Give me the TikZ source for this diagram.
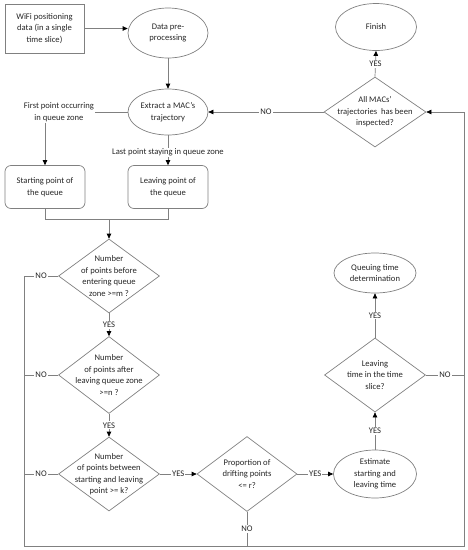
\documentclass[tikz,border=0pt]{standalone}
\usepackage{fontspec}
\setmainfont{Carlito}
\usetikzlibrary{shapes.geometric,arrows.meta}
\begin{document}
\begin{tikzpicture}[x=1pt,y=-1pt,
  every node/.style={font=\fontsize{8.6}{11.5}\selectfont, text=black!85},
  ln/.style={draw=black!50, line width=0.7pt},
  arr/.style={ln, -{Triangle[black, length=5pt, width=4.5pt]}},
  box/.style={draw=black!50, line width=0.7pt, rectangle, align=center, inner sep=0pt},
  rbox/.style={box, rounded corners=6pt},
  ell/.style={draw=black!50, line width=0.7pt, ellipse, align=center, inner sep=0pt},
  dia/.style={draw=black!50, line width=0.7pt, diamond, inner sep=0pt},
  dtext/.style={align=center},
  lab/.style={fill=white, inner sep=1pt}
]
\useasboundingbox (0,0) rectangle (468,550);

\node[box, minimum width=79pt, minimum height=49pt] (wifi) at (44.5,28.5) {WiFi positioning\\data (in a single\\time slice)};
\node[ell, minimum width=80pt, minimum height=50pt] (data) at (168,33) {Data pre-\\processing};
\node[ell, minimum width=80pt, minimum height=46pt] (extract) at (168,112) {Extract a MAC’s\\trajectory};
\node[align=center, inner sep=1pt] (first) at (59,112) {First point occurring\\in queue zone};
\node[rbox, minimum width=80pt, minimum height=43pt] (start) at (45,187) {Starting point of\\the queue};
\node[rbox, minimum width=80pt, minimum height=43pt] (leave) at (168,187) {Leaving point of\\the queue};
\coordinate (j) at (109,219);

\node[dia, minimum width=101pt, minimum height=74pt, label={[dtext]center:Number\\of points before\\entering queue\\zone >=m ?}] (d1) at (109,276) {};
\node[dia, minimum width=101pt, minimum height=77pt, label={[dtext]center:Number\\of points after\\leaving queue zone\\>=n ?}] (d2) at (109,375) {};
\node[dia, minimum width=101pt, minimum height=74pt, label={[dtext]center:Number\\of points between\\starting and leaving\\point >= k?}] (d3) at (109,474) {};
\node[dia, minimum width=100pt, minimum height=75pt, label={[dtext]center:Proportion of\\drifting points\\<= r?}] (d4) at (247,474) {};
\node[ell, minimum width=83pt, minimum height=48pt] (est) at (375,474) {Estimate\\starting and\\leaving time};
\node[dia, minimum width=101pt, minimum height=74pt, label={[dtext]center:Leaving\\time in the time\\slice?}] (d5) at (375,375) {};
\node[ell, minimum width=82pt, minimum height=40pt] (queue) at (375,273) {Queuing time\\determination};
\node[dia, minimum width=102pt, minimum height=70pt, label={[dtext]center:All MACs’\\trajectories~ has been\\inspected?}] (d6) at (375,112) {};
\node[ell, minimum width=81pt, minimum height=47pt] (finish) at (376,27) {Finish};

\coordinate (lbl) at (24,546);
\coordinate (lbr) at (464,546);

% top flow
\draw[arr] (wifi.east) -- (data.west |- wifi.east);
\draw[arr] (data) -- (extract);
\draw[ln] (first.east) -- (extract.west);
\draw[arr] (first.south -| start.north) -- (start.north);
\draw[arr] (extract.south) -- node[lab, pos=0.57]{Last point staying in queue zone} (leave.north);
\draw[ln] (start.south) |- (j);
\draw[ln] (leave.south) |- (j);
\draw[arr] (j) -- (d1.north);

% yes chain
\draw[arr] (d1.south) -- node[lab]{YES} (d2.north);
\draw[arr] (d2.south) -- node[lab]{YES} (d3.north);
\draw[arr] (d3.east) -- node[lab]{YES} (d4.west);
\draw[arr] (d4.east) -- node[lab]{YES} (est.west);
\draw[arr] (est.north) -- node[lab]{YES} (d5.south);
\draw[arr] (d5.north) -- node[lab]{YES} (queue.south);
\draw[arr] (d6.north) -- node[lab]{YES} (finish.south);

% no loop
\draw[arr] (d1.west) -- node[lab]{NO} (d1.west -| lbl) -- (lbl) -- (lbr) |- (d6.east);
\draw[ln] (d2.west) -- node[lab]{NO} (d2.west -| lbl);
\draw[ln] (d3.west) -- node[lab]{NO} (d3.west -| lbl);
\draw[ln] (d4.south) -- node[lab]{NO} (d4.south |- lbl);
\draw[ln] (d5.east) -- node[lab]{NO} (d5.east -| lbr);
\draw[arr] (d6.west) -- node[lab]{NO} (extract.east);
\end{tikzpicture}
\end{document}
